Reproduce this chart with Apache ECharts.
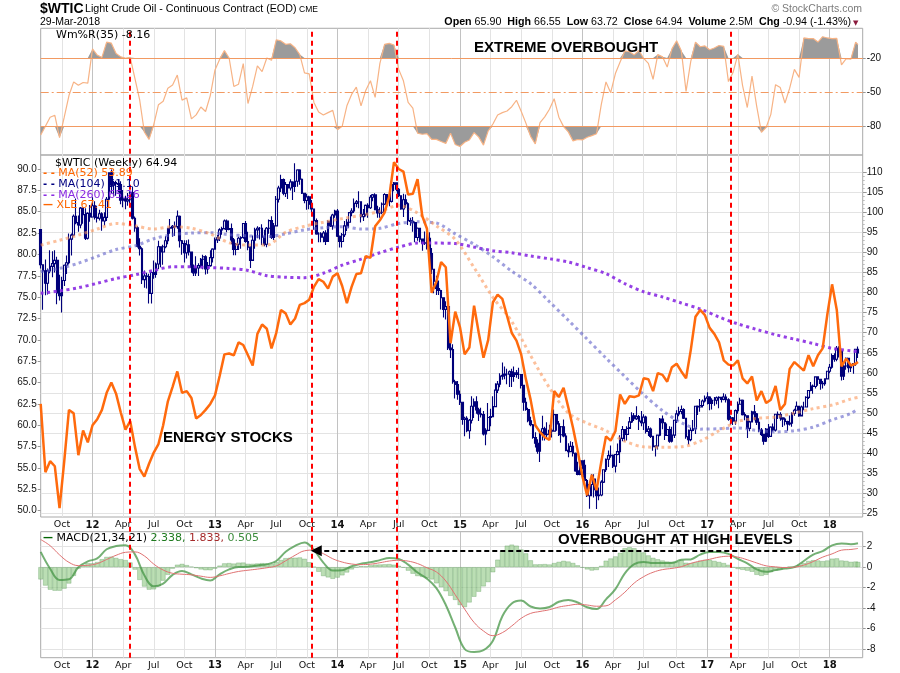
<!DOCTYPE html>
<html>
<head>
<meta charset="utf-8">
<title>$WTIC Light Crude Oil - Continuous Contract</title>
<script src="https://cdn.jsdelivr.net/npm/echarts@6.0.0/dist/echarts.min.js"></script>
<style>
html,body{margin:0;padding:0;background:#fff;}
#chart{width:900px;height:673px;}
</style>
</head>
<body>
<div id="chart"></div>
<script>
// ================= DATA =================
const firstWeek = '2011-08-05';   // first weekly bar (week ending)
const axisWeeks = 350;            // axis runs to week ending 2018-04-13
const wtiFirstOpen = 95.7;

const wtiClose = [
86.9,85.4,82.3,85.4,86.5,87.2,88.0,79.9,79.2,83.0,86.8,87.4,93.3,94.3,99.0,97.4,96.8,101.0,99.4,93.5,99.7,98.8,
101.6,98.7,98.5,99.6,97.8,98.7,103.2,109.8,106.7,107.4,107.1,106.9,103.0,103.3,102.8,103.1,104.9,98.5,96.1,91.5,90.9,83.2,84.1,84.0,79.8,85.0,84.5,87.1,91.4,90.1,91.4,92.9,96.0,96.2,96.5,96.4,99.0,92.9,92.2,89.9,91.9,90.1,86.3,84.9,86.1,86.7,88.3,88.9,85.9,86.7,88.7,90.8,
93.1,93.6,95.6,95.9,97.8,95.7,95.9,93.1,90.7,92.0,93.5,93.7,97.2,92.7,91.3,88.0,93.0,95.6,96.0,96.0,93.8,92.0,96.0,97.9,93.7,96.6,103.2,106.0,108.1,104.7,106.9,106.0,107.5,106.4,107.7,110.5,108.2,104.7,102.9,103.8,102.0,100.8,97.9,94.6,94.6,93.8,94.8,92.7,97.7,96.6,99.3,100.3,
94.0,92.7,94.4,96.6,97.5,99.9,100.3,102.2,102.6,102.6,98.9,99.5,101.7,101.1,103.7,104.3,100.6,99.8,100.0,102.0,104.4,102.7,102.7,106.9,107.3,105.7,104.1,100.8,103.1,102.1,97.9,97.7,97.4,93.7,96.0,93.3,92.3,92.4,93.5,89.7,85.8,82.8,81.0,80.5,78.7,75.8,76.5,66.2,65.8,57.8,57.1,54.7,
52.7,48.4,48.7,45.6,48.2,51.7,52.8,50.8,49.8,49.6,44.8,45.7,48.9,49.1,51.6,55.7,57.2,59.2,59.4,59.7,59.7,60.3,59.1,60.0,59.6,59.6,56.9,52.7,50.9,48.1,47.1,43.9,42.5,40.5,45.2,46.1,44.6,44.7,45.7,45.5,49.6,47.3,44.6,46.6,44.3,40.7,40.4,41.7,40.0,35.6,34.7,38.1,
37.0,33.2,29.4,32.2,33.6,30.9,29.4,29.6,32.8,35.9,38.5,39.4,39.5,36.8,39.7,40.4,43.7,45.9,44.7,46.2,47.8,49.3,48.6,49.1,48.0,47.6,49.0,45.4,46.0,44.2,41.6,41.8,44.5,48.5,47.6,44.4,45.9,43.0,44.5,48.2,49.8,50.4,50.9,48.7,44.1,43.4,45.7,46.1,51.7,51.5,51.9,53.0,
53.7,54.0,52.4,53.2,53.2,53.8,53.9,53.4,54.0,53.3,48.5,48.8,48.0,50.6,52.2,53.2,49.6,49.3,46.2,47.8,50.3,49.8,47.7,45.8,44.7,43.0,46.0,44.2,46.5,45.8,49.7,49.6,48.8,48.5,47.9,47.3,47.5,49.9,50.7,51.7,49.3,51.5,51.5,53.9,55.6,56.7,56.6,59.0,58.4,57.4,57.3,58.5,60.4,
61.4,64.3,63.4,66.1,65.5,59.2,61.7,63.6,61.3,62.0,62.3,65.9,64.94];

const wtiHigh = [
95.7,87.0,88.2,86.0,90.5,90.3,90.5,88.9,84.4,83.9,87.0,89.2,94.7,94.7,99.4,103.4,99.2,101.3,101.0,101.0,100.0,101.8,
103.7,102.7,101.6,100.6,100.0,100.0,103.8,109.9,110.6,107.8,107.8,108.1,107.7,105.5,104.1,104.8,105.2,106.4,98.9,96.5,93.5,91.3,85.5,84.9,84.7,85.0,88.0,87.5,92.9,90.5,91.9,94.0,96.0,98.3,96.8,97.7,100.4,99.2,93.1,93.0,93.0,93.2,90.2,87.0,89.0,87.3,88.6,89.4,89.3,87.6,90.5,91.0,
93.7,94.3,96.0,96.4,98.2,98.2,97.9,97.2,93.6,92.3,93.9,94.0,97.3,97.8,95.1,91.5,94.2,96.1,96.5,96.3,97.0,95.6,96.3,98.2,99.0,97.3,104.0,106.6,109.3,108.4,107.5,107.0,108.2,107.7,112.2,110.7,110.7,108.4,104.6,104.6,104.1,103.0,100.9,98.4,95.0,95.0,95.3,95.5,98.0,98.9,99.6,100.6,
100.8,94.2,94.8,97.8,98.3,100.0,101.0,103.4,103.0,105.2,102.6,100.8,101.9,102.2,104.3,104.5,104.7,101.6,101.2,102.4,104.7,104.5,103.6,107.7,107.5,107.1,106.0,104.2,104.6,104.4,102.5,98.6,98.8,97.7,96.2,96.0,93.4,95.2,95.0,95.0,91.1,85.8,84.2,83.0,80.7,78.7,77.8,76.9,69.9,67.1,58.3,58.0,
55.6,52.7,49.1,49.2,48.5,54.2,53.6,54.2,51.3,51.3,50.5,46.2,52.5,51.1,54.2,57.4,58.0,59.9,62.6,61.6,61.0,60.6,61.0,61.6,60.7,61.3,59.7,56.8,53.8,51.3,49.1,47.3,45.2,43.5,45.5,49.3,46.6,47.7,47.1,46.2,50.9,49.3,48.0,46.8,48.4,45.0,42.5,43.0,42.8,40.2,37.9,38.4,
38.1,38.4,33.6,32.4,34.8,34.8,31.0,31.5,33.3,36.0,38.7,40.7,41.9,39.7,39.8,42.4,44.5,46.8,46.0,46.7,49.0,50.2,50.0,51.7,49.5,50.5,49.7,49.3,46.8,46.4,44.0,42.0,44.6,48.8,49.4,47.7,47.4,46.7,46.6,48.3,50.7,51.6,51.9,51.2,48.7,45.9,46.4,48.3,51.8,51.9,53.5,53.4,
54.4,55.2,54.2,53.7,54.0,54.1,54.2,54.0,54.9,54.7,53.7,49.3,49.0,50.9,52.9,53.8,53.4,50.2,49.4,48.1,50.6,52.0,50.0,48.7,46.3,44.8,46.3,47.3,46.7,47.4,49.8,50.4,50.2,48.9,48.9,48.1,49.4,50.2,51.1,52.9,51.7,51.9,52.8,54.2,55.7,57.7,57.1,59.0,58.9,58.3,58.0,58.6,60.5,
62.2,64.8,64.9,66.7,66.6,65.3,62.0,63.8,63.7,62.4,62.4,66.0,66.55];

const wtiLow = [
86.0,75.7,79.3,79.5,84.8,83.8,85.0,77.1,78.0,75.0,81.6,84.6,87.0,89.2,94.0,97.0,95.1,96.0,97.1,93.1,93.2,97.6,
98.8,98.2,97.4,97.9,95.4,96.7,97.8,102.7,104.8,104.1,104.1,104.9,102.0,101.2,100.7,101.6,102.2,98.2,95.1,91.2,89.2,82.1,81.2,81.0,77.3,77.3,83.4,83.7,85.8,86.3,86.9,91.0,92.0,94.6,93.9,94.1,95.9,91.2,89.4,87.5,88.5,89.2,84.9,84.1,84.1,84.1,86.2,85.8,84.5,84.7,86.4,87.5,
90.8,92.3,92.8,94.4,95.7,95.0,95.5,92.0,89.3,89.3,90.6,90.9,93.4,92.4,90.5,86.1,88.2,90.9,93.5,93.2,91.8,91.5,91.3,94.6,93.3,93.1,96.5,102.4,105.0,104.2,103.8,103.3,105.4,103.0,105.0,106.3,106.8,104.5,102.2,100.6,100.7,100.0,95.6,94.4,92.5,92.5,92.5,91.8,92.6,96.3,95.6,98.6,
93.8,91.2,91.2,93.8,95.3,96.1,99.0,99.8,101.2,101.0,97.4,97.8,98.9,98.6,100.8,102.7,100.5,98.6,98.6,99.5,101.8,101.6,101.5,102.4,105.2,105.2,103.8,100.6,98.8,101.1,96.8,96.6,95.1,92.5,92.9,92.5,90.4,91.8,90.7,88.8,84.6,79.8,79.4,79.4,75.8,73.8,73.3,65.7,63.7,57.3,53.6,53.3,
52.0,47.1,44.2,45.2,43.6,47.4,48.8,49.8,48.0,48.9,44.4,42.0,45.5,46.7,49.6,51.5,55.0,56.4,58.3,58.4,57.2,56.5,56.5,57.8,58.8,58.5,56.1,50.6,50.6,47.7,46.7,43.6,41.4,39.9,37.8,43.2,43.2,44.0,43.8,43.9,45.5,45.6,44.3,42.6,44.0,40.5,39.0,40.3,39.2,35.4,34.5,34.5,
36.0,32.1,29.1,26.2,29.3,29.0,26.1,28.3,29.3,32.6,35.3,36.6,38.9,36.3,35.2,39.5,37.6,43.0,43.0,43.2,46.5,47.5,48.0,48.3,45.8,46.7,45.8,44.9,44.3,43.8,40.6,39.2,40.9,44.2,46.0,43.3,44.6,42.6,42.7,43.8,47.5,49.2,49.7,48.5,43.6,42.2,43.0,45.5,44.8,49.5,50.3,51.4,
52.6,52.1,50.7,50.9,51.8,52.2,51.2,52.6,53.2,52.6,48.1,47.1,47.0,47.1,49.8,52.3,49.4,48.2,43.8,45.5,47.7,48.2,47.0,45.2,44.3,42.1,42.8,43.8,44.2,45.4,45.4,48.5,48.1,46.5,46.9,45.6,46.9,46.6,49.3,50.7,49.1,49.6,50.7,51.5,53.5,55.4,54.8,56.1,56.8,55.8,56.1,56.8,58.4,
59.9,61.0,62.8,62.9,63.8,58.1,58.2,60.8,60.1,60.2,59.8,61.8,63.72];

// every 2nd week (last value = final bar)
const xleClose = [
62.5,54.5,55.8,55.2,50.3,55.8,61.8,61.4,56.5,59.4,58.0,60.0,60.7,61.8,63.8,65.0,63.7,61.5,59.5,60.5,
57.5,54.9,54.0,55.5,56.8,57.8,60.0,62.8,64.5,66.3,63.8,64.0,63.2,60.8,61.2,61.8,62.5,63.5,65.8,68.3,
68.4,68.2,69.7,69.4,68.2,67.0,70.7,71.8,71.3,69.0,70.8,73.5,73.1,71.8,72.5,74.1,74.3,74.7,76.2,77.1,
76.8,76.0,77.4,77.8,76.3,74.3,76.2,77.7,77.8,79.8,79.6,83.3,84.0,84.9,86.8,90.8,90.0,89.7,87.0,87.1,
88.8,84.5,83.0,75.5,76.8,79.1,78.5,69.6,73.3,71.5,68.3,69.1,74.0,70.8,67.9,70.0,74.4,75.3,74.8,72.8,
70.8,69.9,68.3,65.4,63.0,60.0,59.2,58.6,58.3,64.0,63.3,64.4,62.1,59.7,57.0,54.0,51.8,54.2,52.4,55.7,
58.7,58.2,59.3,63.6,62.5,63.4,63.3,63.5,65.5,65.4,64.0,66.1,65.9,65.1,66.8,67.2,66.3,65.5,68.8,72.7,
73.5,72.9,71.4,70.7,69.7,67.6,67.1,67.0,67.6,65.5,64.9,65.7,62.9,64.0,62.6,63.0,64.6,61.8,62.5,66.6,
67.4,66.9,66.4,68.2,66.9,68.2,69.0,73.0,76.5,73.5,66.9,67.8,67.0,67.2,67.4];

const wmR35 = [
-87.7,-80,-72,-70.3,-90,-72,-53,-41,-44,-41.5,-42,-12,-17.4,-19.5,-6,-7,-16,-19,-20.3,-19.5,
-38,-56.5,-85,-91.5,-78.5,-61,-58,-46.5,-43.7,-35,-57,-55,-73.5,-70,-63,-67,-53,-30.5,-21,-13.5,
-20,-45,-43,-25,-60,-45,-27,-32,-20,-22,-4,-5,-8,-7.5,-11,-17,-33,-34,-59,-67.5,
-70.1,-68,-66,-83,-80,-62,-52,-45.6,-62,-48.5,-40,-54.6,-25,-8,-7.2,-8.6,-30,-40,-59,-64,
-86,-87,-86.5,-91.5,-91.5,-93.4,-95,-86,-96,-97.8,-94,-92,-85.5,-89.5,-96.5,-84,-78,-70,-68,-66.6,
-62.8,-57.1,-66.8,-77.2,-88.8,-95.5,-76.7,-71.7,-65,-55.8,-72,-80.3,-84.9,-92.8,-91.6,-92,-89.6,-88.2,-86.5,-61,
-41,-50.5,-33.7,-23.6,-13.8,-14.5,-17.3,-13.4,-20.4,-24.7,-38.7,-17,-19,-28,-12,-4.9,-13.7,-49.3,-23,-6,
-10.1,-9.4,-12.7,-11.2,-9,-9.8,-40.7,-32.4,-16.8,-44.2,-63.5,-36,-62.5,-85.3,-81,-69.5,-43.4,-46,-59.5,-46.5,
-30,-37,-2.4,-3,-2.9,-6,-1.3,-2.4,-3,-2.7,-26,-20.5,-21,-6,-8.2];

// every 8th week (last value = final bar)
const ma52 = [91.8,93.0,94.3,95.8,97.2,96.6,95.8,96.4,96.0,94.6,92.4,91.8,91.8,95.0,96.5,97.5,98.4,99.2,100.2,101.7,
99.8,96.6,93.2,86.2,78.8,72.8,64.3,56.3,50.0,47.5,45.6,43.0,41.6,41.5,41.6,43.0,45.6,47.9,48.7,49.0,50.0,51.1,52.0,53.5,53.9];
const ma104 = [85.2,86.0,87.3,89.0,90.7,91.6,93.4,94.4,94.8,94.9,94.4,94.1,93.9,94.6,95.6,96.1,96.4,95.8,96.0,97.2,
97.6,97.3,94.6,92.0,88.9,85.3,82.2,77.7,73.1,68.4,63.7,59.1,54.6,50.6,47.6,46.0,46.1,46.3,45.7,45.3,45.6,46.5,48.3,49.9,51.1];
const ma260 = [79.8,80.4,81.2,82.3,83.5,84.4,85.5,86.4,86.4,86.2,86.0,85.5,84.2,83.8,83.7,84.8,86.8,88.3,89.9,91.3,
92.3,92.3,92.2,91.3,90.4,89.9,89.1,88.4,87.6,86.2,84.7,82.2,80.2,78.9,77.4,75.9,73.9,72.2,70.8,69.5,68.4,67.3,66.1,65.5,65.3];

// every 4th week (last value = final bar)
const macdLine = [1.49,-0.15,-1.25,-1.18,0.0,0.57,0.85,1.75,2.06,2.14,1.25,-0.8,-1.87,-1.6,-0.75,-0.37,-0.7,-1.1,-1.3,-0.7,
-0.22,0.02,0.03,0.17,0.28,0.6,1.5,2.08,2.42,1.7,0.45,-0.32,-0.3,0.09,0.34,0.47,0.69,0.9,0.8,0.25,
-0.52,-1.12,-2.05,-3.7,-5.9,-8.0,-8.29,-8.12,-7.2,-4.8,-3.55,-3.27,-3.85,-4.05,-3.9,-3.38,-3.2,-3.45,-3.92,-4.1,
-3.15,-2.15,-0.6,0.3,0.51,0.41,0.41,0.41,0.72,0.76,1.23,1.49,1.49,1.3,0.8,0.38,-0.22,-0.46,-0.29,-0.14,
0.02,0.6,1.23,1.57,2.13,2.31,2.25,2.34];
const macdSignal = [2.7,2.1,1.2,0.47,0.15,0.18,0.35,0.75,1.16,1.45,1.49,1.1,0.3,-0.28,-0.6,-0.69,-0.75,-0.88,-1.0,-0.85,
-0.62,-0.42,-0.3,-0.19,-0.06,0.12,0.62,1.16,1.6,1.67,1.32,0.82,0.5,0.31,0.25,0.29,0.43,0.6,0.67,0.59,
0.35,-0.06,-0.47,-1.35,-2.7,-4.1,-5.4,-6.24,-6.7,-6.4,-5.75,-5.0,-4.52,-4.33,-4.16,-3.9,-3.75,-3.63,-3.7,-3.82,
-3.78,-3.2,-2.45,-1.55,-0.93,-0.5,-0.24,-0.12,0.05,0.37,0.6,0.77,0.98,1.07,0.98,0.72,0.41,0.13,0.03,-0.04,
0.0,0.2,0.55,0.98,1.3,1.66,1.73,1.83];
// every 2nd week (last value = final bar)
const macdHist = [
-1.2,-1.8,-2.2,-2.3,-2.3,-2.1,-1.6,-0.85,-0.15,0.21,0.39,0.38,0.5,0.78,1.0,1.03,0.9,0.78,0.69,0.46,
-0.24,-1.25,-1.9,-2.2,-2.17,-1.87,-1.32,-0.75,-0.15,0.24,0.32,0.2,0.05,-0.1,-0.22,-0.3,-0.3,-0.15,0.15,0.37,
0.4,0.35,0.44,0.45,0.33,0.33,0.36,0.39,0.34,0.3,0.48,0.7,0.88,0.92,0.92,0.95,0.82,0.48,0.03,-0.45,
-0.87,-1.0,-1.14,-1.02,-0.8,-0.52,-0.22,0.0,0.09,0.08,0.18,0.25,0.26,0.28,0.3,0.24,0.13,-0.05,-0.34,-0.64,
-0.87,-0.95,-1.06,-1.2,-1.58,-1.95,-2.35,-2.8,-3.2,-3.7,-3.9,-3.45,-2.89,-2.4,-1.88,-1.46,-0.5,0.73,1.6,2.1,
2.2,2.1,1.73,1.35,0.67,0.27,0.28,0.3,0.26,0.4,0.52,0.62,0.55,0.41,0.18,-0.05,-0.22,-0.33,-0.28,0.12,
0.63,0.85,1.05,1.4,1.85,1.95,1.85,1.65,1.44,1.15,0.91,0.77,0.65,0.55,0.53,0.53,0.67,0.43,0.39,0.48,
0.63,0.7,0.72,0.61,0.51,0.4,0.23,-0.04,-0.18,-0.26,-0.34,-0.45,-0.75,-0.85,-0.75,-0.48,-0.32,-0.23,-0.1,0.06,
0.02,0.22,0.4,0.6,0.68,0.65,0.59,0.65,0.83,0.86,0.65,0.61,0.52,0.55,0.505];

const markerDates = ['2012-04-27','2013-10-18','2014-06-27','2017-03-17'];
const arrowSpan = ['2013-11-01','2017-11-17'];
const arrowLevel = 1.6;
const wrLevels = [-20, -50, -80];
const quarterNames = ['', '', '', 'Apr', '', '', 'Jul', '', '', 'Oct'];
const STEP2 = 2, STEP4 = 4, STEP8 = 8;

// ================= helpers =================
const DAY = 86400000;
const t0 = Date.parse(firstWeek + 'T00:00:00Z');
const weekDate = i => new Date(t0 + i * 7 * DAY);
const cats = Array.from({length: axisWeeks}, (_, i) => weekDate(i).toISOString().slice(0, 10));
const LAST = wtiClose.length - 1;
const place = (arr, step) => arr.map((v, i) => [Math.min(i * step, LAST), v]);
const quarterStart = i => { const d = weekDate(i); return i <= LAST && d.getUTCMonth() % 3 === 0 && d.getUTCDate() <= 7; };
const yearStart = i => { const d = weekDate(i); return d.getUTCMonth() === 0 && d.getUTCDate() <= 7; };
const xLabel = v => { const m = +v.slice(5, 7) - 1; return m === 0 ? '{yr|' + v.slice(2, 4) + '}' : quarterNames[m]; };
const candles = wtiClose.map((c, i) => [i ? wtiClose[i - 1] : wtiFirstOpen, c, wtiLow[i], wtiHigh[i]]);

const SANS = 'Liberation Sans', DV = 'DejaVu Sans';
const L = 40.7, R = 37.3;
const frameStyle = {show: true, borderColor: '#a9a9a9', borderWidth: 1, backgroundColor: 'rgba(0,0,0,0)'};
const yLbl = {fontFamily: SANS, fontSize: 10, color: '#111', margin: 4};

function hx(grid) {
  return {type: 'category', gridIndex: grid, data: cats, boundaryGap: false, show: false};
}
function qx(grid, labels) {
  return {type: 'category', gridIndex: grid, data: cats, boundaryGap: false, position: 'bottom',
    axisLine: {show: false}, axisTick: {show: false},
    axisLabel: {show: labels, interval: (i) => quarterStart(i), formatter: xLabel,
      fontFamily: DV, fontSize: 9.5, color: '#111', margin: 3,
      rich: {yr: {fontFamily: DV, fontSize: 10, fontWeight: 'bold', color: '#111'}}},
    splitLine: {show: true, interval: (i) => quarterStart(i) && !yearStart(i), lineStyle: {color: '#e3e3e3', width: 1}}};
}
function yx(grid) {
  return {type: 'category', gridIndex: grid, data: cats, boundaryGap: false, position: 'top',
    axisLine: {show: false}, axisTick: {show: false}, axisLabel: {show: false},
    splitLine: {show: true, interval: (i) => yearStart(i), lineStyle: {color: '#c2c2c2', width: 1}}};
}
function txt(x, y, style, z) {
  return {type: 'text', x: x, y: y, z: z || 50, style: Object.assign({verticalAlign: 'middle', fill: '#000'}, style)};
}

const option = {
  animation: false,
  backgroundColor: '#ffffff',
  grid: [
    Object.assign({left: L, right: R, top: 28.3, height: 126.7}, frameStyle), // 0 Wm%R frame
    {left: L, right: R, top: 58, height: 68.3},                               // 1 Wm%R scale
    Object.assign({left: L, right: R, top: 155, height: 362}, frameStyle),    // 2 price frame
    {left: L, right: R, top: 172, height: 341.5},                             // 3 WTIC scale (right)
    {left: L, right: R, top: 169, height: 341.7},                             // 4 XLE scale (left)
    Object.assign({left: L, right: R, top: 531.7, height: 126}, frameStyle),  // 5 MACD frame
    {left: L, right: R, top: 546.7, height: 102.3},                           // 6 MACD scale
    {left: L, right: R, top: 28.3, height: 629.4}                             // 7 full height (markers)
  ],
  xAxis: [qx(0, false), yx(0), hx(1), qx(2, true), yx(2), hx(3), hx(4), qx(5, true), yx(5), hx(6), hx(7)],
  yAxis: [
    {type: 'value', gridIndex: 0, show: false, min: 0, max: 1},
    {type: 'value', gridIndex: 1, position: 'right', min: -80, max: -20, interval: 30,
      axisLine: {show: false}, axisTick: {show: true, length: 3, lineStyle: {color: '#999'}},
      splitLine: {show: false}, axisLabel: yLbl},
    {type: 'value', gridIndex: 2, show: false, min: 0, max: 1},
    {type: 'value', gridIndex: 3, position: 'right', min: 25, max: 110, interval: 5,
      axisLine: {show: false}, axisTick: {show: true, length: 4, lineStyle: {color: '#999'}},
      minorTick: {show: true, splitNumber: 5, length: 2, lineStyle: {color: '#bbb'}},
      splitLine: {show: true, lineStyle: {color: '#e3e3e3'}}, axisLabel: yLbl},
    {type: 'value', gridIndex: 4, position: 'left', min: 50, max: 90, interval: 2.5,
      axisLine: {show: false}, axisTick: {show: true, length: 3, lineStyle: {color: '#999'}},
      splitLine: {show: false}, axisLabel: Object.assign({formatter: v => v.toFixed(1)}, yLbl)},
    {type: 'value', gridIndex: 5, show: false, min: 0, max: 1},
    {type: 'value', gridIndex: 6, position: 'right', min: -8, max: 2, interval: 2,
      axisLine: {show: false}, axisTick: {show: true, length: 3, lineStyle: {color: '#999'}},
      splitLine: {show: true, lineStyle: {color: '#e3e3e3'}}, axisLabel: yLbl},
    {type: 'value', gridIndex: 7, show: false, min: 0, max: 1}
  ],
  series: [
    // ---- Williams %R panel ----
    {type: 'line', xAxisIndex: 2, yAxisIndex: 1, clip: false, symbol: 'none', silent: true,
      data: place(wmR35.map(v => Math.max(v, wrLevels[0])), STEP2),
      lineStyle: {width: 0}, areaStyle: {color: '#9b9b9b', opacity: 1, origin: wrLevels[0]}},
    {type: 'line', xAxisIndex: 2, yAxisIndex: 1, clip: false, symbol: 'none', silent: true,
      data: place(wmR35.map(v => Math.min(v, wrLevels[2])), STEP2),
      lineStyle: {width: 0}, areaStyle: {color: '#9b9b9b', opacity: 1, origin: wrLevels[2]}},
    {type: 'line', xAxisIndex: 2, yAxisIndex: 1, clip: false, symbol: 'none', silent: true,
      data: place(wmR35, STEP2), lineStyle: {color: '#f7b385', width: 1.2},
      markLine: {silent: true, symbol: ['none', 'none'], label: {show: false},
        data: [
          {yAxis: wrLevels[0], lineStyle: {color: '#f29a62', width: 1, type: 'solid'}},
          {yAxis: wrLevels[1], lineStyle: {color: '#f29a62', width: 1, type: [8, 3, 2, 3]}},
          {yAxis: wrLevels[2], lineStyle: {color: '#f29a62', width: 1, type: 'solid'}}
        ]}},
    // ---- price panel ----
    {type: 'candlestick', xAxisIndex: 5, yAxisIndex: 3, clip: false, silent: true, barWidth: 2.2,
      data: candles,
      itemStyle: {color: '#ffffff', color0: '#00007a', borderColor: '#00007a', borderColor0: '#00007a', borderWidth: 1.1}},
    {type: 'line', xAxisIndex: 5, yAxisIndex: 3, clip: false, symbol: 'none', silent: true, smooth: 0.3,
      data: place(ma260, STEP8), lineStyle: {color: 'rgba(138,43,226,0.9)', width: 3, type: [3, 3.5]}},
    {type: 'line', xAxisIndex: 5, yAxisIndex: 3, clip: false, symbol: 'none', silent: true, smooth: 0.3,
      data: place(ma104, STEP8), lineStyle: {color: 'rgba(95,95,200,0.6)', width: 3, type: [3, 3.5]}},
    {type: 'line', xAxisIndex: 5, yAxisIndex: 3, clip: false, symbol: 'none', silent: true, smooth: 0.3,
      data: place(ma52, STEP8), lineStyle: {color: 'rgba(250,150,90,0.6)', width: 3, type: [3, 3.5]}},
    {type: 'line', xAxisIndex: 6, yAxisIndex: 4, clip: false, symbol: 'none', silent: true, z: 4,
      data: place(xleClose, STEP2), lineStyle: {color: '#ff6a0d', width: 2.5}},
    // ---- MACD panel ----
    {type: 'bar', xAxisIndex: 9, yAxisIndex: 6, clip: false, silent: true, barWidth: 4.7,
      data: place(macdHist, STEP2),
      itemStyle: {color: 'rgba(150,205,140,0.65)', borderColor: 'rgba(70,140,70,0.55)', borderWidth: 0.5}},
    {type: 'line', xAxisIndex: 9, yAxisIndex: 6, clip: false, symbol: 'none', silent: true, smooth: 0.4,
      data: place(macdLine, STEP4), lineStyle: {color: 'rgba(70,150,70,0.75)', width: 2}},
    {type: 'line', xAxisIndex: 9, yAxisIndex: 6, clip: false, symbol: 'none', silent: true, smooth: 0.4,
      data: place(macdSignal, STEP4), lineStyle: {color: '#e07272', width: 1},
      markLine: {silent: true, symbol: ['triangle', 'none'], symbolSize: [11, 11], label: {show: false},
        lineStyle: {color: '#000', width: 2, type: [5, 3]},
        data: [[{coord: [arrowSpan[0], arrowLevel]}, {coord: [arrowSpan[1], arrowLevel]}]]}},
    // ---- red dashed event markers across all panels ----
    {type: 'line', xAxisIndex: 10, yAxisIndex: 7, symbol: 'none', silent: true, z: 10,
      data: markerDates.map(d => [d, 0.5]), lineStyle: {opacity: 0},
      markLine: {silent: true, symbol: ['none', 'none'], label: {show: false}, z: 10,
        lineStyle: {color: '#ff0000', width: 2, type: [5, 4]},
        data: markerDates.map(d => ({xAxis: d}))}}
  ],
  graphic: [
    txt(40, 9, {text: '$WTIC', font: 'bold 14px "Liberation Sans"'}),
    txt(85, 9.5, {text: 'Light Crude Oil - Continuous Contract (EOD)', font: '10.7px "Liberation Sans"'}),
    txt(299, 10, {text: 'CME', font: '8.5px "Liberation Sans"'}),
    txt(40, 22.5, {text: '29-Mar-2018', font: '10.5px "Liberation Sans"'}),
    txt(851, 22.5, {
      text: '{b|Open} 65.90  {b|High} 66.55  {b|Low} 63.72  {b|Close} 64.94  {b|Volume} 2.5M  {b|Chg} -0.94 (-1.43%)',
      fontFamily: SANS, fontSize: 10.7, align: 'right',
      rich: {b: {fontFamily: SANS, fontSize: 10.7, fontWeight: 'bold', fill: '#000'}}}),
    txt(853, 23, {text: '\u25BC', font: '7px "DejaVu Sans"', fill: '#8b1a3c'}),
    txt(862, 9, {text: '\u00A9 StockCharts.com', font: '10.5px "Liberation Sans"', fill: '#7a7a7a', align: 'right'}),
    // panel legends
    txt(56, 35.5, {text: 'Wm%R(35) -8.16', font: '11px "DejaVu Sans"'}),
    txt(55, 163, {text: '$WTIC (Weekly) 64.94', font: '11px "DejaVu Sans"'}),
    txt(43, 173.5, {text: '- - {t|MA(52) 53.89}', font: 'bold 10px "DejaVu Sans"', fill: '#ff6600', rich: {t: {font: '11px "DejaVu Sans"', fill: '#ff6600'}}}),
    txt(43, 184.3, {text: '- - {t|MA(104) 51.10}', font: 'bold 10px "DejaVu Sans"', fill: '#000080', rich: {t: {font: '11px "DejaVu Sans"', fill: '#000080'}}}),
    txt(43, 195, {text: '- - {t|MA(260) 65.26}', font: 'bold 10px "DejaVu Sans"', fill: '#8a2be2', rich: {t: {font: '11px "DejaVu Sans"', fill: '#8a2be2'}}}),
    txt(43, 205.5, {text: '\u2014 {t|XLE 67.41}', font: 'bold 10px "DejaVu Sans"', fill: '#ff6600', rich: {t: {font: '11px "DejaVu Sans"', fill: '#ff6600'}}}),
    txt(43, 538.5, {text: '\u2014 {k|MACD(21,34,21)} {a|2.338,} {s|1.833,} {h|0.505}', font: 'bold 10px "DejaVu Sans"', fill: '#006400',
      rich: {k: {font: '11px "DejaVu Sans"', fill: '#000'}, a: {font: '11px "DejaVu Sans"', fill: '#1f7a1f'}, s: {font: '11px "DejaVu Sans"', fill: '#a52a2a'}, h: {font: '11px "DejaVu Sans"', fill: '#3c8c3c'}}}),
    // annotations
    txt(474, 47.5, {text: 'EXTREME OVERBOUGHT', font: 'bold 15px "Liberation Sans"'}),
    txt(163, 437.5, {text: 'ENERGY STOCKS', font: 'bold 15px "Liberation Sans"'}),
    txt(558, 540, {text: 'OVERBOUGHT AT HIGH LEVELS', font: 'bold 15px "Liberation Sans"'})
  ]
};

const chart = echarts.init(document.getElementById('chart'), null, {renderer: 'canvas'});
chart.setOption(option);
</script>
</body>
</html>
